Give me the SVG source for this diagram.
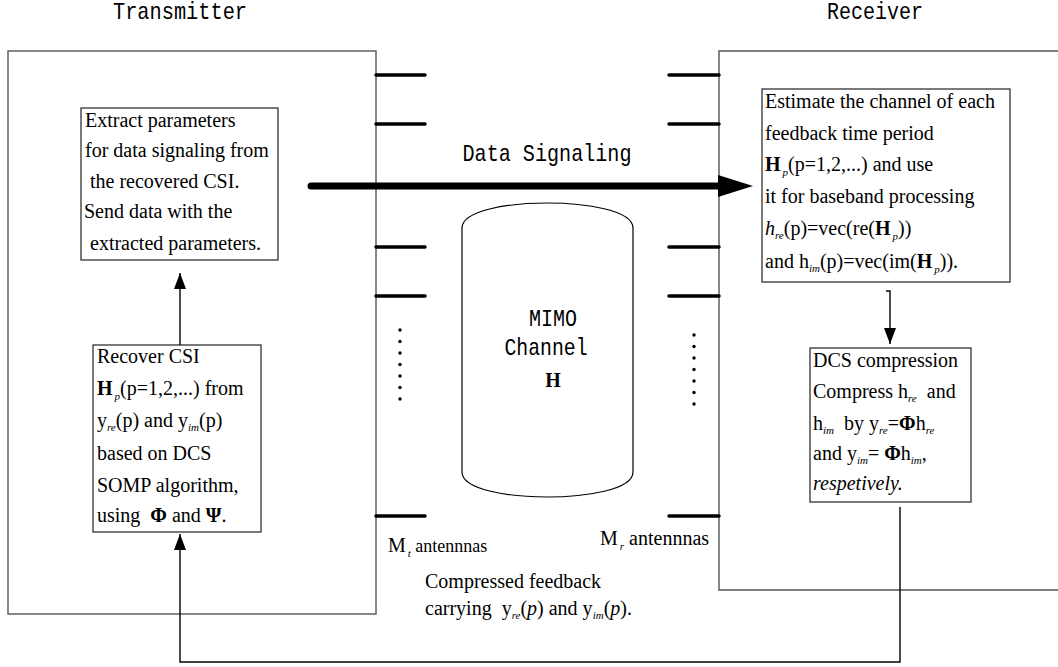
<svg xmlns="http://www.w3.org/2000/svg" width="1058" height="667" viewBox="0 0 1058 667">
<style>
.big{fill:none;stroke:#555;stroke-width:1.4}
.box{fill:#fff;stroke:#333;stroke-width:1.3}
.ant{stroke:#000;stroke-width:3.5;stroke-linecap:round}
.mono{font-family:"Liberation Mono","DejaVu Sans Mono",monospace;font-size:24px;fill:#000}
.t{font-family:"Liberation Serif","Times New Roman",serif;font-size:20px;fill:#000}
.b{font-weight:bold}
.i{font-style:italic}
.s{font-size:11px;font-style:italic}
.conn{fill:none;stroke:#000;stroke-width:1.4}
.dot{fill:#000}
</style>
<defs>
<marker id="ah" markerUnits="userSpaceOnUse" markerWidth="16" markerHeight="12" viewBox="0 0 16 12" refX="16" refY="6" orient="auto">
<path d="M0,0 L16,6 L0,12 z" fill="#000"/>
</marker>
</defs>
<rect width="1058" height="667" fill="#fff"/>

<g id="transmitter">
<rect class="big" x="8" y="51" width="368" height="563"/>
<text class="mono" x="180" y="19" text-anchor="middle" textLength="134" lengthAdjust="spacingAndGlyphs">Transmitter</text>
</g>

<g id="receiver">
<path class="big" d="M1060,51 H719 V590 H1060"/>
<text class="mono" x="875" y="19" text-anchor="middle" textLength="96" lengthAdjust="spacingAndGlyphs">Receiver</text>
</g>

<g id="tx-antennas">
<line class="ant" x1="376" y1="75" x2="425" y2="75"/>
<line class="ant" x1="376" y1="124" x2="425" y2="124"/>
<line class="ant" x1="376" y1="247" x2="425" y2="247"/>
<line class="ant" x1="376" y1="296" x2="425" y2="296"/>
<line class="ant" x1="376" y1="516" x2="425" y2="516"/>
<g class="dot">
<circle cx="400" cy="330" r="1.7"/><circle cx="400" cy="341.5" r="1.7"/><circle cx="400" cy="353" r="1.7"/><circle cx="400" cy="364.5" r="1.7"/><circle cx="400" cy="376" r="1.7"/><circle cx="400" cy="387.5" r="1.7"/><circle cx="400" cy="399" r="1.7"/>
</g>
<text class="t" x="388" y="552" font-size="18">M<tspan class="s" dx="2" dy="5">t</tspan><tspan dy="-5" font-size="18"> antennnas</tspan></text>
</g>

<g id="rx-antennas">
<line class="ant" x1="669" y1="75" x2="719" y2="75"/>
<line class="ant" x1="669" y1="124" x2="719" y2="124"/>
<line class="ant" x1="669" y1="247" x2="719" y2="247"/>
<line class="ant" x1="669" y1="296" x2="719" y2="296"/>
<line class="ant" x1="669" y1="516" x2="719" y2="516"/>
<g class="dot">
<circle cx="694" cy="335" r="1.7"/><circle cx="694" cy="346.5" r="1.7"/><circle cx="694" cy="358" r="1.7"/><circle cx="694" cy="369.5" r="1.7"/><circle cx="694" cy="381" r="1.7"/><circle cx="694" cy="392.5" r="1.7"/><circle cx="694" cy="404" r="1.7"/>
</g>
<text class="t" x="600" y="545">M<tspan class="s" dx="2" dy="5">r</tspan><tspan dy="-5"> antennnas</tspan></text>
</g>

<g id="channel">
<path d="M462,228 C462,210 510,203 547,203 C585,203 633,210 633,228 V472 C633,490 585,497 547,497 C510,497 462,490 462,472 Z" fill="#fff" stroke="#000" stroke-width="1.2"/>
<text class="mono" x="553" y="326" text-anchor="middle" textLength="48" lengthAdjust="spacingAndGlyphs">MIMO</text>
<text class="mono" x="546" y="355" text-anchor="middle" textLength="83" lengthAdjust="spacingAndGlyphs">Channel</text>
<text class="t b" x="553" y="387" text-anchor="middle" font-size="21">H</text>
</g>

<g id="extract-box">
<rect class="box" x="81" y="108" width="197" height="152"/>
<text class="t" x="85" y="127">Extract parameters</text>
<text class="t" x="85" y="157">for data signaling from</text>
<text class="t" x="85" y="188" xml:space="preserve"> the recovered CSI.</text>
<text class="t" x="84" y="218">Send data with the</text>
<text class="t" x="85" y="250" xml:space="preserve"> extracted parameters.</text>
</g>

<g id="recover-box">
<rect class="box" x="93" y="345" width="168" height="187"/>
<text class="t" x="97" y="363">Recover CSI</text>
<text class="t" x="97" y="395"><tspan class="b">H</tspan><tspan class="s" dx="2" dy="5">p</tspan><tspan dy="-5">(p=1,2,...) from</tspan></text>
<text class="t" x="97" y="427">y<tspan class="s" dy="4">re</tspan><tspan dy="-4">(p) and y</tspan><tspan class="s" dy="4">im</tspan><tspan dy="-4">(p)</tspan></text>
<text class="t" x="97" y="460">based on DCS</text>
<text class="t" x="97" y="492">SOMP algorithm,</text>
<text class="t" x="97" y="522" xml:space="preserve">using  <tspan class="b">Φ</tspan> and <tspan class="b">Ψ</tspan>.</text>
</g>

<g id="estimate-box">
<rect class="box" x="762" y="89" width="248" height="193"/>
<text class="t" x="765" y="108">Estimate the channel of each</text>
<text class="t" x="765" y="140">feedback time period</text>
<text class="t" x="765" y="171"><tspan class="b">H</tspan><tspan class="s" dx="2" dy="5">p</tspan><tspan dy="-5">(p=1,2,...) and use</tspan></text>
<text class="t" x="765" y="203">it for baseband processing</text>
<text class="t" x="765" y="235"><tspan class="i">h</tspan><tspan class="s" dy="4">re</tspan><tspan dy="-4">(p)=vec(re(</tspan><tspan class="b">H</tspan><tspan class="s" dx="2" dy="5">p</tspan><tspan dy="-5">))</tspan></text>
<text class="t" x="765" y="268">and h<tspan class="s" dy="4">im</tspan><tspan dy="-4">(p)=vec(im(</tspan><tspan class="b">H</tspan><tspan class="s" dx="2" dy="5">p</tspan><tspan dy="-5">)).</tspan></text>
</g>

<g id="dcs-box">
<rect class="box" x="810" y="348" width="161" height="154"/>
<text class="t" x="813" y="367">DCS compression</text>
<text class="t" x="813" y="398" xml:space="preserve">Compress h<tspan class="s" dy="4">re</tspan><tspan dy="-4">  and</tspan></text>
<text class="t" x="813" y="430" xml:space="preserve">h<tspan class="s" dy="4">im</tspan><tspan dy="-4">  by y</tspan><tspan class="s" dy="4">re</tspan><tspan dy="-4">=</tspan><tspan class="b">Φ</tspan>h<tspan class="s" dy="4">re</tspan></text>
<text class="t" x="813" y="460" xml:space="preserve">and y<tspan class="s" dy="4">im</tspan><tspan dy="-4">= </tspan><tspan class="b">Φ</tspan>h<tspan class="s" dy="4">im</tspan><tspan dy="-4">,</tspan></text>
<text class="t i" x="813" y="490">respetively.</text>
</g>

<g id="labels">
<text class="mono" x="547" y="161" text-anchor="middle" textLength="169" lengthAdjust="spacingAndGlyphs">Data Signaling</text>
<text class="t" x="425" y="588">Compressed feedback</text>
<text class="t" x="425" y="615" xml:space="preserve">carrying  y<tspan class="s" dy="4">re</tspan><tspan dy="-4">(</tspan><tspan class="i">p</tspan>) and y<tspan class="s" dy="4">im</tspan><tspan dy="-4">(</tspan><tspan class="i">p</tspan>).</text>
</g>

<g id="connectors">
<line x1="311" y1="186" x2="720" y2="186" stroke="#000" stroke-width="7" stroke-linecap="round"/>
<polygon points="718,175 753,186 718,197" fill="#000"/>
<path class="conn" d="M180,345 V273" marker-end="url(#ah)"/>
<path class="conn" d="M886,291 H890 V344" marker-end="url(#ah)"/>
<path class="conn" d="M900,507 V662 H180 V534" marker-end="url(#ah)"/>
</g>
</svg>
